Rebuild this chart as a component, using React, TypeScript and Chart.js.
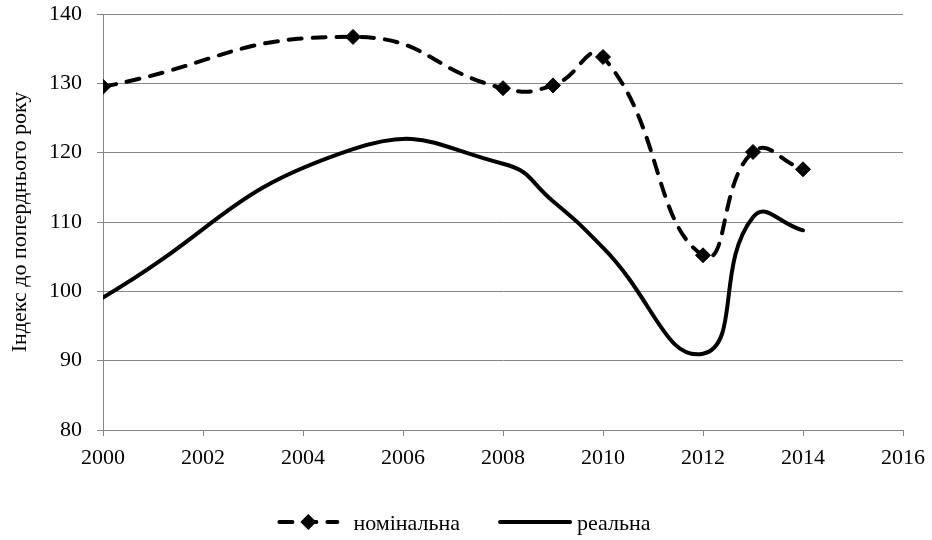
import React, { useEffect, useRef } from "react";
import { Chart, registerables } from "chart.js";

Chart.register(...registerables);

const years = [2000, 2005, 2008, 2009, 2010, 2012, 2013, 2014];
const nominal = [129.5, 136.7, 129.3, 129.7, 133.8, 105.2, 120.1, 117.6];
const real = [99.1, 120.5, 118.4, 113.0, 106.3, 91.0, 110.7, 108.8];
const xTicks = [2000, 2002, 2004, 2006, 2008, 2010, 2012, 2014, 2016];
const yTicks = [80, 90, 100, 110, 120, 130, 140];
const seriesNames = ["номінальна", "реальна"];
const yTitle = "Індекс до поперднього року";

const FONT = "'Liberation Serif', 'Times New Roman', serif";
const FSIZE = 22;
const GRID = "#868686";
const DASH = [13, 11];

const legendPlugin = {
  id: "customLegend",
  afterDraw(chart: any) {
    const ctx = chart.ctx as CanvasRenderingContext2D;
    ctx.save();
    ctx.font = `${FSIZE}px ${FONT}`;
    const w1 = ctx.measureText(seriesNames[0]).width;
    const w2 = ctx.measureText(seriesNames[1]).width;
    const l1 = 62, g1 = 14, l2 = 74, g2 = 5, gap = 38;
    const total = l1 + g1 + w1 + gap + l2 + g2 + w2;
    let x = chart.width / 2 - 2 - total / 2;
    const y = 522;
    ctx.strokeStyle = "#000";
    ctx.lineWidth = 4;
    ctx.lineCap = "round";
    ctx.setLineDash(DASH);
    ctx.beginPath();
    ctx.moveTo(x + 2, y);
    ctx.lineTo(x + l1 - 2, y);
    ctx.stroke();
    ctx.setLineDash([]);
    const cx = x + l1 / 2;
    ctx.fillStyle = "#000";
    ctx.beginPath();
    ctx.moveTo(cx - 8, y);
    ctx.lineTo(cx, y - 8);
    ctx.lineTo(cx + 8, y);
    ctx.lineTo(cx, y + 8);
    ctx.closePath();
    ctx.fill();
    ctx.textBaseline = "middle";
    ctx.textAlign = "left";
    ctx.fillText(seriesNames[0], x + l1 + g1, y + 2);
    x += l1 + g1 + w1 + gap;
    ctx.beginPath();
    ctx.moveTo(x + 2, y);
    ctx.lineTo(x + l2 - 2, y);
    ctx.stroke();
    ctx.fillText(seriesNames[1], x + l2 + g2, y + 2);
    ctx.restore();
  },
};

export default function App() {
  const ref = useRef<HTMLCanvasElement>(null);
  useEffect(() => {
    if (!ref.current) return;
    const chart = new Chart(ref.current, {
      type: "line",
      data: {
        datasets: [
          {
            label: seriesNames[0],
            data: years.map((y, i) => ({ x: y, y: nominal[i] })),
            borderColor: "#000",
            backgroundColor: "#000",
            borderWidth: 4,
            borderDash: DASH,
            borderCapStyle: "round",
            tension: 0.5,
            pointStyle: "rectRot",
            pointRadius: 7.5,
            pointBorderWidth: 1,
            pointBackgroundColor: "#000",
            pointBorderColor: "#000",
            fill: false,
          },
          {
            label: seriesNames[1],
            data: years.map((y, i) => ({ x: y, y: real[i] })),
            borderColor: "#000",
            backgroundColor: "#000",
            borderWidth: 4,
            borderCapStyle: "round",
            tension: 0.5,
            pointRadius: 0,
            fill: false,
          },
        ],
      },
      options: {
        responsive: false,
        animation: false,
        devicePixelRatio: 1,
        layout: { padding: { top: 14, right: 29, bottom: 66, left: 0 } },
        plugins: {
          legend: { display: false },
          tooltip: { enabled: false },
        },
        scales: {
          x: {
            type: "linear",
            min: 2000,
            max: 2016,
            afterBuildTicks: (scale: any) => {
              scale.ticks = xTicks.map((v) => ({ value: v }));
            },
            afterFit: (scale: any) => {
              scale.height = 44;
              scale.paddingLeft = 0;
              scale.paddingRight = 0;
            },
            grid: {
              drawOnChartArea: false,
              drawTicks: true,
              tickLength: 6,
              color: GRID,
            },
            border: { display: true, color: GRID, width: 1 },
            ticks: {
              color: "#000",
              font: { family: FONT, size: FSIZE },
              padding: 9,
              maxRotation: 0,
              callback: (v: any) => String(v),
            },
          },
          y: {
            type: "linear",
            min: 80,
            max: 140,
            afterBuildTicks: (scale: any) => {
              scale.ticks = yTicks.map((v) => ({ value: v }));
            },
            afterFit: (scale: any) => {
              scale.width = 103;
              scale.paddingTop = 0;
              scale.paddingBottom = 0;
            },
            grid: {
              drawOnChartArea: true,
              drawTicks: true,
              tickLength: 6,
              color: GRID,
            },
            border: { display: true, color: GRID, width: 1 },
            ticks: {
              color: "#000",
              font: { family: FONT, size: FSIZE },
              padding: 15,
              callback: (v: any) => String(v),
            },
            title: {
              display: true,
              text: yTitle,
              color: "#000",
              font: { family: FONT, size: FSIZE },
              padding: { top: 7, bottom: 0 },
            },
          },
        },
      },
      plugins: [legendPlugin],
    });
    return () => chart.destroy();
  }, []);
  return (
    <div style={{ position: "absolute", left: 0, top: 0, width: 932, height: 540, background: "#fff" }}>
      <canvas ref={ref} width={932} height={540} style={{ display: "block" }} />
    </div>
  );
}
